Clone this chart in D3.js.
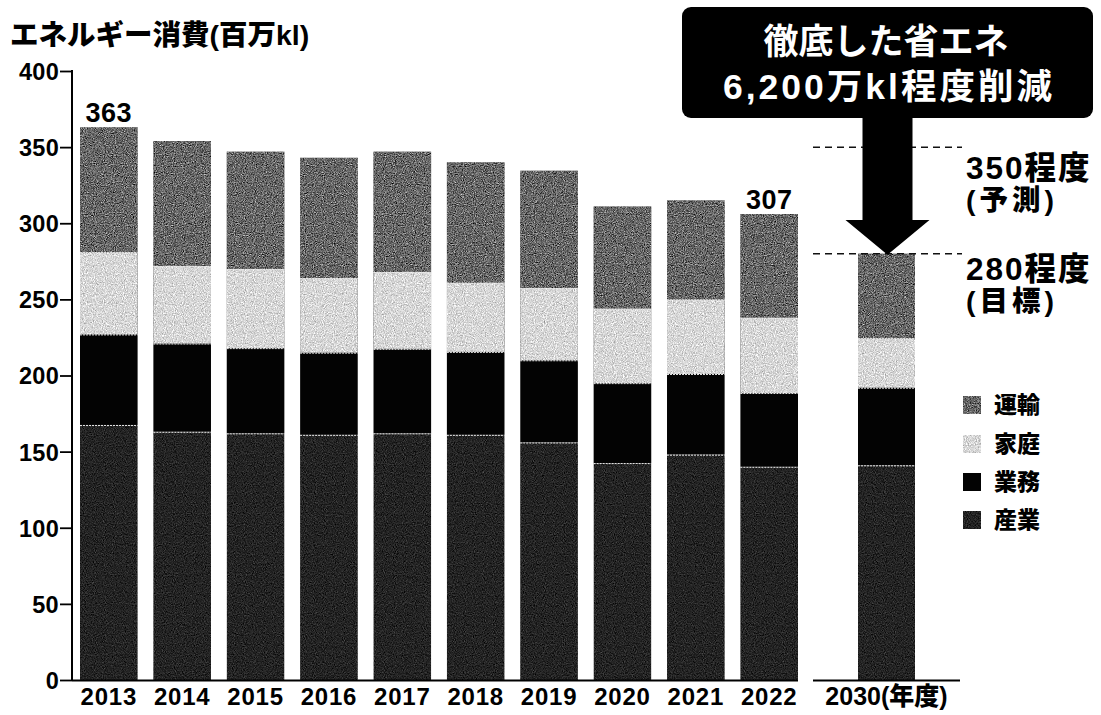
<!DOCTYPE html>
<html>
<head>
<meta charset="utf-8">
<script src="https://cdn.jsdelivr.net/npm/d3@7"></script>
<style>
  html, body { margin: 0; padding: 0; background: #fff; }
  svg { display: block; }
  text { fill: #000; }
</style>
</head>
<body>
<svg id="chart" width="1101" height="715"></svg>
<script>
// ---- data ----
const years = ["2013","2014","2015","2016","2017","2018","2019","2020","2021","2022"];
const targetYear = ["2030"];
const seriesKeys = ["産業","業務","家庭","運輸"];          // bottom -> top
const industry  = [167.5, 163, 162, 161, 162, 161, 156, 142.5, 148, 140];
const business  = [59.5, 58, 56, 54, 55.5, 54.5, 54, 52.5, 53, 48.5];
const household = [54, 51, 52, 49, 50.5, 45.5, 47.5, 49, 49, 49.5];
const transport = [82, 82, 77, 79, 79, 79, 77, 67, 65, 68];
const target2030 = { "産業": 141, "業務": 51, "家庭": 32.5, "運輸": 55.5 };
const totalLabels = [{ year: "2013", text: "363" }, { year: "2022", text: "307" }];
const yTicks = [0, 50, 100, 150, 200, 250, 300, 350, 400];
const forecastValue = 350, targetValue = 280;
const legendOrder = ["運輸","家庭","業務","産業"];

// ---- build table ----
const table = years.map((y, i) => ({ year: y, "産業": industry[i], "業務": business[i], "家庭": household[i], "運輸": transport[i] }));
const table2030 = [Object.assign({ year: "2030" }, target2030)];

const LAT = "'Liberation Sans', Arial, 'Noto Sans CJK JP', sans-serif";
const CJK = "'Liberation Sans', 'Noto Sans CJK JP', sans-serif";

const svg = d3.select("#chart");

// grain filters to imitate the scanned print texture
const defs = svg.append("defs");
function grain(id, amt, freq, seed) {
  const f = defs.append("filter").attr("id", id).attr("x", 0).attr("y", 0).attr("width", 1).attr("height", 1)
    .attr("color-interpolation-filters", "sRGB");
  f.append("feTurbulence").attr("type", "fractalNoise").attr("baseFrequency", freq).attr("numOctaves", 2).attr("seed", seed).attr("result", "n");
  f.append("feColorMatrix").attr("in", "n").attr("type", "matrix")
    .attr("values", "0.33 0.33 0.33 0 0  0.33 0.33 0.33 0 0  0.33 0.33 0.33 0 0  0 0 0 0 1").attr("result", "m");
  f.append("feComposite").attr("in", "SourceGraphic").attr("in2", "m").attr("operator", "arithmetic")
    .attr("k1", 0).attr("k2", 1).attr("k3", amt).attr("k4", -amt / 2).attr("result", "c");
  f.append("feComposite").attr("in", "c").attr("in2", "SourceGraphic").attr("operator", "in");
}
grain("g-tr", 1.8, 0.9, 2);
grain("g-hh", 1.1, 0.9, 5);
grain("g-in", 0.7, 0.9, 8);

const color = { "運輸": "#686868", "家庭": "#d8d8d8", "業務": "#030303", "産業": "#242424" };
const filt  = { "運輸": "url(#g-tr)", "家庭": "url(#g-hh)", "業務": null, "産業": "url(#g-in)" };

// ---- scales ----
const y = d3.scaleLinear().domain([0, 400]).range([680, 71]);
const x = d3.scaleBand().domain(years).range([80, 798]).paddingInner(0.215).paddingOuter(0);
const x2 = d3.scaleBand().domain(targetYear).range([858, 915]).padding(0);

const stack = d3.stack().keys(seriesKeys);
const stacked = stack(table);
const stacked2030 = stack(table2030);

// ---- bars ----
function drawBars(data, xs) {
  const g = svg.append("g");
  data.forEach(layer => {
    g.selectAll(null).data(layer).join("rect")
      .attr("x", d => xs(d.data.year))
      .attr("width", xs.bandwidth())
      .attr("y", d => y(d[1]))
      .attr("height", d => y(d[0]) - y(d[1]))
      .attr("fill", color[layer.key])
      .attr("filter", filt[layer.key]);
  });
  data.slice(0, -1).forEach(layer => {
    g.selectAll(null).data(layer).join("line")
      .attr("x1", d => xs(d.data.year)).attr("x2", d => xs(d.data.year) + xs.bandwidth())
      .attr("y1", d => y(d[1]) + 0.5).attr("y2", d => y(d[1]) + 0.5)
      .attr("stroke", "#e8e8e8").attr("stroke-width", 1).attr("stroke-dasharray", "2,1");
  });
}
drawBars(stacked, x);
drawBars(stacked2030, x2);

// ---- y axis ----
const yAxis = d3.axisLeft(y).tickValues(yTicks).tickSize(12).tickPadding(1);
const gy = svg.append("g").attr("transform", "translate(72,0)").call(yAxis);
gy.select(".domain").remove();
gy.selectAll(".tick line").attr("stroke", "#000").attr("stroke-width", 1.8);
gy.selectAll(".tick text").attr("fill", "#000").attr("dy", "0.36em")
  .style("font-family", LAT).style("font-size", "23.5px").style("font-weight", "bold").style("letter-spacing", "0.3px");
svg.append("line").attr("x1", 72).attr("x2", 72).attr("y1", y(400) - 1).attr("y2", y(0) + 1)
  .attr("stroke", "#000").attr("stroke-width", 2);

// ---- x axis ----
const xAxis = d3.axisBottom(x).tickSize(0).tickPadding(0);
const gx = svg.append("g").attr("transform", "translate(0,680)").call(xAxis);
gx.select(".domain").remove();
gx.selectAll(".tick text").attr("dy", null).attr("y", 25).attr("fill", "#000")
  .style("font-family", LAT).style("font-size", "24px").style("font-weight", "bold").style("letter-spacing", "0.8px");
svg.append("line").attr("x1", 72).attr("x2", 798).attr("y1", 680.5).attr("y2", 680.5).attr("stroke", "#000").attr("stroke-width", 2);

const xAxis2 = d3.axisBottom(x2).tickSize(0).tickPadding(0).tickFormat(d => d + "(年度)");
const gx2 = svg.append("g").attr("transform", "translate(0,680)").call(xAxis2);
gx2.select(".domain").remove();
gx2.selectAll(".tick text").attr("dy", null).attr("y", 25).attr("fill", "#000")
  .style("font-family", CJK).style("font-size", "25px").style("font-weight", "900");
svg.append("line").attr("x1", 813).attr("x2", 960).attr("y1", 680.5).attr("y2", 680.5).attr("stroke", "#000").attr("stroke-width", 2);

// ---- total labels ----
totalLabels.forEach(t => {
  const i = years.indexOf(t.year);
  const top = stacked[stacked.length - 1][i][1];
  svg.append("text").attr("x", x(t.year) + x.bandwidth() / 2).attr("y", y(top) - 5)
    .attr("text-anchor", "middle")
    .style("font-family", LAT).style("font-size", "27px").style("font-weight", "bold").style("letter-spacing", "0.5px")
    .text(t.text);
});

// ---- title ----
svg.append("text").attr("x", 10).attr("y", 45)
  .style("font-family", CJK).style("font-size", "28.5px").style("font-weight", "900")
  .text("エネルギー消費(百万kl)");

// ---- reference dashed lines ----
[forecastValue, targetValue].forEach(v => {
  svg.append("line").attr("x1", 813).attr("x2", 962).attr("y1", y(v)).attr("y2", y(v))
    .attr("stroke", "#111").attr("stroke-width", 1.5).attr("stroke-dasharray", "7,5");
});
function sideLabel(txt, yy, fs, ls) {
  svg.append("text").attr("x", 966).attr("y", yy)
    .style("font-family", CJK).style("font-size", fs + "px").style("font-weight", "900").style("letter-spacing", ls + "px")
    .text(txt);
}
sideLabel("350程度", y(forecastValue) + 32, 31.5, 2);
sideLabel("(予測)", y(forecastValue) + 63, 28.5, 4);
sideLabel("280程度", y(targetValue) + 26, 31.5, 2);
sideLabel("(目標)", y(targetValue) + 57, 28.5, 4);

// ---- callout box + arrow ----
svg.append("rect").attr("x", 682).attr("y", 7).attr("width", 411).attr("height", 111).attr("rx", 9).attr("fill", "#000");
svg.append("text").attr("x", 886).attr("y", 54).attr("text-anchor", "middle").style("fill", "#fff")
  .style("font-family", CJK).style("font-size", "35px").style("font-weight", "700")
  .text("徹底した省エネ");
svg.append("text").attr("x", 889).attr("y", 99).attr("text-anchor", "middle").style("fill", "#fff")
  .style("font-family", CJK).style("font-size", "35.5px").style("font-weight", "700").style("letter-spacing", "3px")
  .text("6,200万kl程度削減");
const cx = x2(targetYear[0]) + x2.bandwidth() / 2 + 1;
const tipY = y(targetValue) + 1;
svg.append("path")
  .attr("d", `M${cx - 25},112 L${cx + 25},112 L${cx + 25},220 L${cx + 42},220 L${cx},${tipY} L${cx - 42},220 L${cx - 25},220 Z`)
  .attr("fill", "#000");

// ---- legend ----
const lg = svg.append("g").attr("transform", "translate(963,0)");
const legendY = [405, 444, 482, 520];
legendOrder.forEach((k, i) => {
  lg.append("rect").attr("x", 0).attr("y", legendY[i] - 9).attr("width", 18).attr("height", 18)
    .attr("fill", color[k]).attr("filter", filt[k]);
  lg.append("text").attr("x", 31).attr("y", legendY[i] + 8)
    .style("font-family", CJK).style("font-size", "23px").style("font-weight", "900")
    .text(k);
});
</script>
</body>
</html>
